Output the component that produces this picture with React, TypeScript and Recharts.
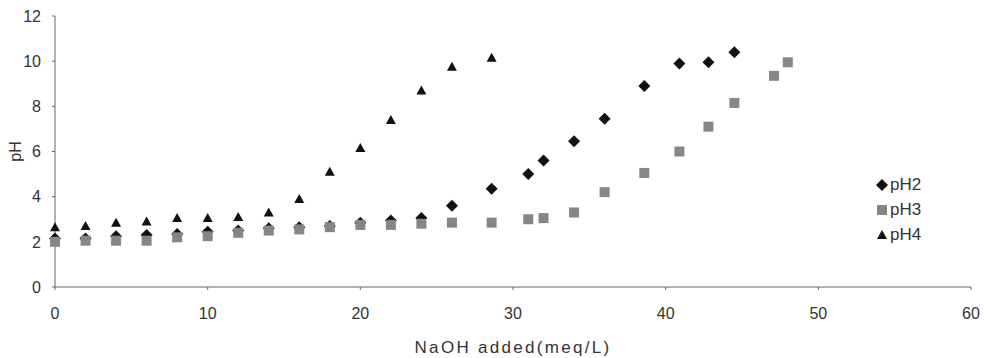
import React from 'react';
import { ScatterChart, Scatter, XAxis, YAxis, Legend } from 'recharts';

const naohPH2 = [0, 2, 4, 6, 8, 10, 12, 14, 16, 18, 20, 22, 24, 26, 28.6, 31, 32, 34, 36, 38.6, 40.9, 42.8, 44.5];
const valuesPH2 = [2.15, 2.15, 2.25, 2.3, 2.35, 2.45, 2.5, 2.6, 2.65, 2.7, 2.85, 2.95, 3.05, 3.6, 4.35, 5.0, 5.6, 6.45, 7.45, 8.9, 9.9, 9.95, 10.4];

const naohPH3 = [0, 2, 4, 6, 8, 10, 12, 14, 16, 18, 20, 22, 24, 26, 28.6, 31, 32, 34, 36, 38.6, 40.9, 42.8, 44.5, 47.1, 48];
const valuesPH3 = [2.0, 2.05, 2.05, 2.05, 2.2, 2.25, 2.4, 2.5, 2.55, 2.65, 2.75, 2.75, 2.8, 2.85, 2.85, 3.0, 3.05, 3.3, 4.2, 5.05, 6.0, 7.1, 8.15, 9.35, 9.95];

const naohPH4 = [0, 2, 4, 6, 8, 10, 12, 14, 16, 18, 20, 22, 24, 26, 28.6];
const valuesPH4 = [2.65, 2.7, 2.85, 2.9, 3.05, 3.05, 3.1, 3.3, 3.9, 5.1, 6.15, 7.4, 8.7, 9.75, 10.15];

const xTicks = [0, 10, 20, 30, 40, 50, 60];
const yTicks = [0, 2, 4, 6, 8, 10, 12];

const toPoints = (xs: number[], ys: number[]) => xs.map((x, i) => ({ x, y: ys[i] }));

const ph2 = toPoints(naohPH2, valuesPH2);
const ph3 = toPoints(naohPH3, valuesPH3);
const ph4 = toPoints(naohPH4, valuesPH4);

const font = '"Liberation Sans", Arial, sans-serif';

// markers drawn around the cx/cy the scatter hands over
const Diamond = (p: any) => (
  <polygon
    points={`${p.cx},${p.cy - 6} ${p.cx + 6},${p.cy} ${p.cx},${p.cy + 6} ${p.cx - 6},${p.cy}`}
    fill="#111"
  />
);
const Square = (p: any) => <rect x={p.cx - 5} y={p.cy - 5} width={10} height={10} fill="#868686" />;
const Triangle = (p: any) => (
  <polygon points={`${p.cx},${p.cy - 5} ${p.cx + 5},${p.cy + 4} ${p.cx - 5},${p.cy + 4}`} fill="#111" />
);

const legendIcons: Record<string, (p: any) => React.ReactElement> = {
  pH2: Diamond,
  pH3: Square,
  pH4: Triangle,
};

const LegendBox = ({ payload }: any) => (
  <div>
    {(payload || []).map((item: any) => {
      const Icon = legendIcons[item.value];
      return (
        <div key={item.value} style={{ display: 'flex', alignItems: 'center', height: 25 }}>
          <svg width={14} height={14}>
            <Icon cx={7} cy={7} />
          </svg>
          <span style={{ marginLeft: 1, color: '#333', fontSize: 17 }}>{item.value}</span>
        </div>
      );
    })}
  </div>
);

const tickStyle = { fill: '#333', fontSize: 16, fontFamily: font };

export default function App() {
  return (
    <div style={{ position: 'absolute', left: 0, top: 0, width: 984, height: 358, fontFamily: font }}>
      <ScatterChart width={984} height={358} margin={{ top: 16, right: 13, bottom: 30, left: 13 }}>
        <XAxis
          type="number"
          dataKey="x"
          domain={[0, 60]}
          ticks={xTicks}
          axisLine={{ stroke: '#666' }}
          tickLine={{ stroke: '#666' }}
          tickSize={3}
          tickMargin={18}
          tick={tickStyle}
          height={41}
          label={{
            value: 'NaOH added(meq/L)',
            position: 'insideBottom',
            offset: -25,
            style: { fill: '#333', fontSize: 17, fontFamily: font, letterSpacing: 2.3 },
          }}
        />
        <YAxis
          type="number"
          dataKey="y"
          domain={[0, 12]}
          ticks={yTicks}
          axisLine={{ stroke: '#666' }}
          tickLine={{ stroke: '#666' }}
          tickSize={3}
          tickMargin={11}
          tick={tickStyle}
          width={42}
          label={{
            value: 'pH',
            angle: -90,
            position: 'insideLeft',
            offset: 2,
            style: { fill: '#333', fontSize: 16, fontFamily: font, textAnchor: 'middle' },
          }}
        />
        <Legend
          layout="vertical"
          align="center"
          verticalAlign="middle"
          content={<LegendBox />}
          wrapperStyle={{ top: 172, left: 875, width: 80, fontFamily: font }}
        />
        <Scatter name="pH2" data={ph2} fill="#111" legendType="diamond" shape={Diamond} isAnimationActive={false} />
        <Scatter name="pH3" data={ph3} fill="#868686" legendType="square" shape={Square} isAnimationActive={false} />
        <Scatter name="pH4" data={ph4} fill="#111" legendType="triangle" shape={Triangle} isAnimationActive={false} />
      </ScatterChart>
    </div>
  );
}
